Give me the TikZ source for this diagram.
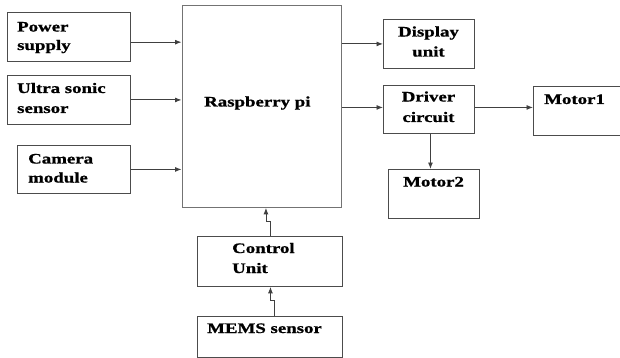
\documentclass[tikz,border=0pt]{standalone}
\usepackage{fontspec}
\setmainfont{Liberation Serif}[FakeStretch=1.3, BoldFeatures={FakeStretch=1.3, FakeBold=1}]
\usetikzlibrary{arrows.meta}
\begin{document}
\begin{tikzpicture}[x=1pt,y=-1pt,
  box/.style={draw=black!70, line width=0.9pt, inner sep=0pt, anchor=north west},
  lbl/.style={anchor=base west, inner sep=0pt, font=\fontsize{14.5}{18}\selectfont\bfseries},
  clbl/.style={anchor=base, inner sep=0pt, font=\fontsize{14.5}{18}\selectfont\bfseries},
  conn/.style={draw=black!75, line width=0.9pt, -{Latex[length=6.5pt,width=5pt]}}]
\useasboundingbox (0,0) rectangle (620,358);
% boxes
\node[box, minimum width=123pt, minimum height=48.5pt] (ps) at (7,12.5) {};
\node[box, minimum width=123pt, minimum height=49pt] (us) at (7,75) {};
\node[box, minimum width=113pt, minimum height=48pt] (cam) at (17,145) {};
\node[box, draw=black!55, minimum width=159.5pt, minimum height=201.5pt] (rpi) at (181.5,5.5) {};
\node[box, minimum width=91pt, minimum height=49pt] (disp) at (383,19) {};
\node[box, minimum width=91pt, minimum height=48pt] (drv) at (383,85) {};
\node[box, minimum width=86.5pt, minimum height=48.5pt] (m1) at (533,86.5) {};
\node[box, minimum width=91pt, minimum height=49pt] (m2) at (388,169) {};
\node[box, minimum width=145pt, minimum height=50.5pt] (ctrl) at (197,235.5) {};
\node[box, minimum width=145pt, minimum height=40.5pt] (mems) at (197,316) {};
% labels
\node[lbl] (tps1) at (17,31.5) {Power};
\node[lbl] (tps2) at (17,50) {supply};
\node[lbl] (tus1) at (17,93) {Ultra sonic};
\node[lbl] (tus2) at (17,113) {sensor};
\node[lbl] (tcam1) at (28,163.5) {Camera};
\node[lbl] (tcam2) at (28,182.5) {module};
\node[lbl] (trpi) at (204,106.5) {Raspberry pi};
\node[clbl] (tdisp1) at (428.5,36.5) {Display};
\node[clbl] (tdisp2) at (428.5,56.5) {unit};
\node[clbl] (tdrv1) at (428.5,101.5) {Driver};
\node[clbl] (tdrv2) at (428.5,122) {circuit};
\node[lbl] (tm1) at (544,104) {Motor1};
\node[lbl] (tm2) at (403,186.5) {Motor2};
\node[lbl] (tctrl1) at (232,253) {Control};
\node[lbl] (tctrl2) at (232,273) {Unit};
\node[lbl] (tmems) at (207,333) {MEMS sensor};
% connectors
\draw[conn] ([yshift=-5pt]ps.east) -- ([yshift=-5pt]ps.east -| rpi.west);
\draw[conn] (us.east) -- (us.east -| rpi.west);
\draw[conn] (cam.east) -- (cam.east -| rpi.west);
\draw[conn] (disp.west -| rpi.east) -- (disp.west);
\draw[conn] ([yshift=2pt]drv.west -| rpi.east) -- ([yshift=2pt]drv.west);
\draw[conn] ([yshift=2pt]drv.east) -- ([yshift=2pt]drv.east -| m1.west);
\draw[conn] ([xshift=1.5pt]drv.south) -- ([xshift=1.5pt]drv.south |- m2.north);
\draw[conn] (ctrl.north) |- ([xshift=-4pt]ctrl.north |- 0,221) -- ([xshift=-4pt]ctrl.north |- rpi.south);
\draw[conn] ([xshift=4.5pt]mems.north) |- ([xshift=0.5pt]mems.north |- 0,300) -- ([xshift=0.5pt]mems.north |- ctrl.south);
\end{tikzpicture}
\end{document}
